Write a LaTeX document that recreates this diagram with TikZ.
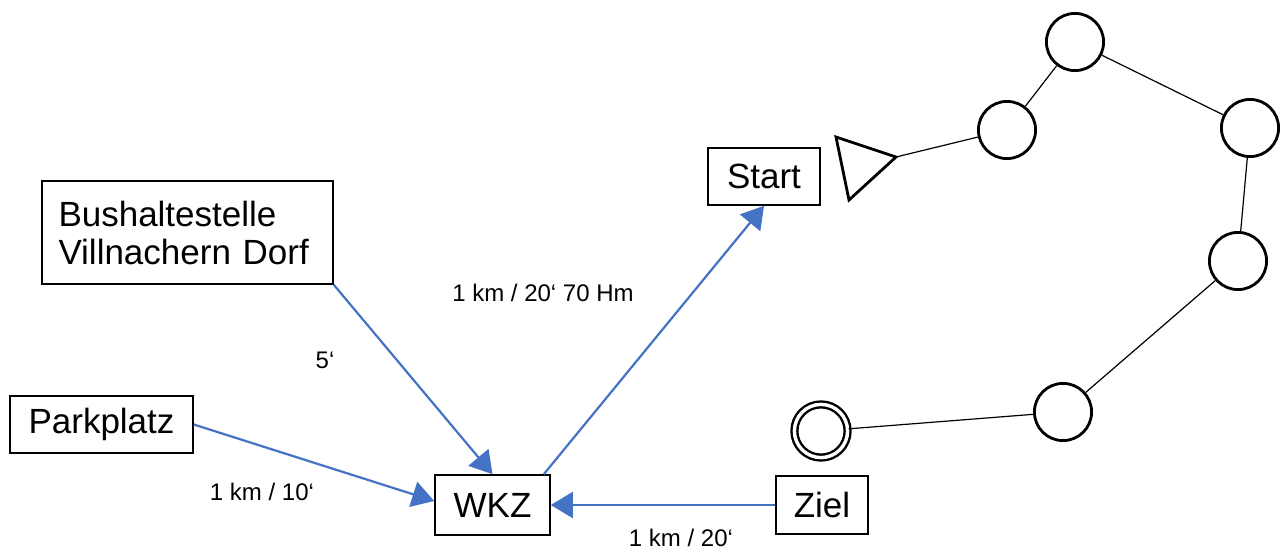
\documentclass[tikz,border=0pt]{standalone}
\usepackage{fontspec}
\setmainfont{Liberation Sans}
\usetikzlibrary{arrows.meta}
\definecolor{wegblau}{RGB}{68,114,196}
\tikzset{
  ort/.style={draw, line width=0.8pt, inner sep=0pt, font=\fontsize{17.5}{19}\selectfont},
  posten/.style={draw, circle, line width=1.4pt, minimum size=28.6pt, inner sep=0pt},
  weg/.style={wegblau, line width=1.1pt, -{Triangle[length=11pt,width=13pt]}},
  lauf/.style={line width=0.6pt},
  zeit/.style={font=\fontsize{12}{14}\selectfont}
}

\begin{document}
\begin{tikzpicture}[x=0.5pt,y=-0.5pt]
\useasboundingbox (0,0) rectangle (1286,550);

\node[ort, minimum height=51.5pt, text width=129pt, inner xsep=8.25pt, align=left] (bus) at (187.5,232.5) {Bushaltestelle\\Villnachern Dorf};
\node[ort, minimum width=91.5pt, minimum height=28.5pt] (park) at (101.5,424.5) {Parkplatz};
\node[ort, minimum width=57.5pt, minimum height=30pt] (wkz) at (492.5,505) {WKZ};
\node[ort, minimum width=56pt, minimum height=28.5pt] (start) at (764,176.5) {Start};
\node[ort, minimum width=46pt, minimum height=29pt] (ziel) at (822,505) {Ziel};

\draw[line width=1.4pt] (836,137) -- (896,157) -- (849,200) -- cycle;
\coordinate (spitze) at (896,157);
\node[posten] (p1) at (1007,130) {};
\node[posten] (p2) at (1075,42) {};
\node[posten] (p3) at (1250,128) {};
\node[posten] (p4) at (1238,261) {};
\node[posten] (p5) at (1063,412) {};
\node[posten, double, double distance=1.7pt, line width=1.2pt, minimum size=26.6pt] (ende) at (821,431) {};
\draw[lauf] (spitze) -- (p1) -- (p2) -- (p3) -- (p4) -- (p5) -- (ende);

\draw[weg] (bus.south east) -- (wkz.north);
\draw[weg] (park.east) -- ([yshift=2pt]wkz.west);
\draw[weg] ([xshift=-3.5pt]wkz.north east) -- (start.south);
\draw[weg] (ziel.west) -- (wkz.east);

\node[zeit] (t1) at (325,360) {5‘};
\node[zeit] (t2) at (543,293) {1 km / 20‘ 70 Hm};
\node[zeit] (t3) at (262,492) {1 km / 10‘};
\node[zeit] (t4) at (681,538) {1 km / 20‘};
\end{tikzpicture}
\end{document}
